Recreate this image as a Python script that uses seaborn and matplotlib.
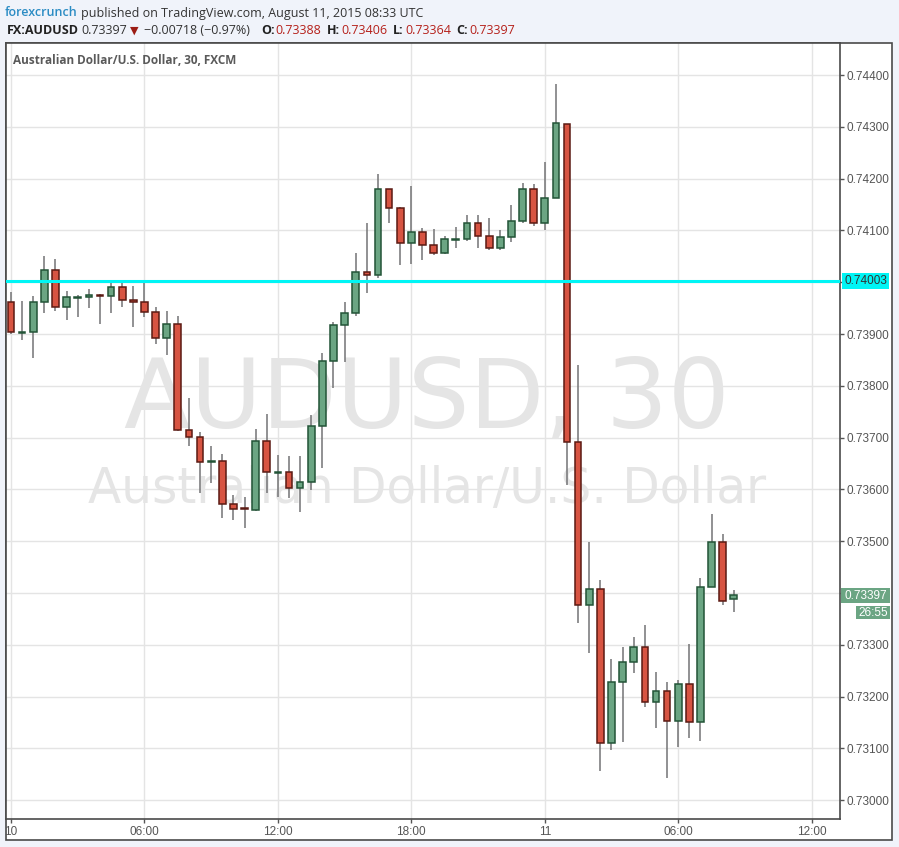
import pandas as pd
import seaborn as sns
import matplotlib.pyplot as plt
from matplotlib.patches import Rectangle

# 30 minute candles, AUD/USD, Aug 10 00:00 -> Aug 11 08:30 UTC
opens = [0.73962, 0.73902, 0.73904, 0.73962, 0.74024, 0.73952, 0.73970, 0.73971, 0.73975, 0.73973,
         0.73990, 0.73965, 0.73961, 0.73942, 0.73892, 0.73919, 0.73714, 0.73701, 0.73652, 0.73654,
         0.73571, 0.73564, 0.73561, 0.73693, 0.73632, 0.73633, 0.73602, 0.73614, 0.73722, 0.73847,
         0.73917, 0.73940, 0.74019, 0.74013, 0.74180, 0.74143, 0.74075, 0.74096, 0.74071, 0.74056,
         0.74082, 0.74083, 0.74114, 0.74089, 0.74066, 0.74087, 0.74118, 0.74179, 0.74114, 0.74162,
         0.74306, 0.73691, 0.73377, 0.73408, 0.73111, 0.73228, 0.73267, 0.73295, 0.73190, 0.73210,
         0.73153, 0.73224, 0.73150, 0.73411, 0.73499, 0.73388]
highs = [0.73981, 0.73964, 0.73973, 0.74051, 0.74045, 0.73983, 0.73975, 0.73987, 0.73977, 0.74001,
         0.74001, 0.73993, 0.74001, 0.73953, 0.73945, 0.73935, 0.73777, 0.73710, 0.73684, 0.73669,
         0.73589, 0.73586, 0.73717, 0.73746, 0.73667, 0.73664, 0.73664, 0.73744, 0.73863, 0.73923,
         0.73962, 0.74056, 0.74114, 0.74209, 0.74180, 0.74145, 0.74186, 0.74105, 0.74103, 0.74089,
         0.74107, 0.74130, 0.74130, 0.74124, 0.74101, 0.74149, 0.74192, 0.74190, 0.74232, 0.74383,
         0.74306, 0.73840, 0.73499, 0.73426, 0.73272, 0.73296, 0.73316, 0.73339, 0.73248, 0.73229,
         0.73233, 0.73302, 0.73429, 0.73553, 0.73513, 0.73406]
lows = [0.73900, 0.73889, 0.73854, 0.73941, 0.73945, 0.73928, 0.73932, 0.73951, 0.73920, 0.73940,
        0.73953, 0.73914, 0.73932, 0.73881, 0.73860, 0.73712, 0.73683, 0.73594, 0.73612, 0.73544,
        0.73540, 0.73525, 0.73559, 0.73594, 0.73585, 0.73584, 0.73557, 0.73598, 0.73642, 0.73795,
        0.73845, 0.73935, 0.73979, 0.74008, 0.74115, 0.74034, 0.74036, 0.74042, 0.74052, 0.74054,
        0.74066, 0.74079, 0.74066, 0.74062, 0.74062, 0.74077, 0.74114, 0.74108, 0.74100, 0.74162,
        0.73609, 0.73343, 0.73285, 0.73056, 0.73097, 0.73112, 0.73245, 0.73179, 0.73139, 0.73043,
        0.73103, 0.73120, 0.73114, 0.73411, 0.73376, 0.73364]
closes = [0.73904, 0.73904, 0.73962, 0.74024, 0.73952, 0.73972, 0.73972, 0.73975, 0.73973, 0.73990,
          0.73965, 0.73961, 0.73942, 0.73892, 0.73919, 0.73714, 0.73701, 0.73653, 0.73654, 0.73571,
          0.73563, 0.73562, 0.73693, 0.73633, 0.73634, 0.73602, 0.73614, 0.73722, 0.73847, 0.73917,
          0.73940, 0.74019, 0.74013, 0.74180, 0.74143, 0.74075, 0.74096, 0.74071, 0.74056, 0.74083,
          0.74084, 0.74114, 0.74089, 0.74066, 0.74087, 0.74118, 0.74179, 0.74114, 0.74162, 0.74307,
          0.73691, 0.73377, 0.73408, 0.73111, 0.73228, 0.73267, 0.73295, 0.73190, 0.73210, 0.73153,
          0.73224, 0.73150, 0.73411, 0.73499, 0.73384, 0.73397]

hline_level = 0.74003
last_price = 0.73397
price_ticks = [0.744, 0.743, 0.742, 0.741, 0.740, 0.739, 0.738, 0.737, 0.736, 0.735,
               0.734, 0.733, 0.732, 0.731, 0.730]
time_ticks = [0, 12, 24, 36, 48, 60, 72]
time_labels = ['10', '06:00', '12:00', '18:00', '11', '06:00', '12:00']

df = pd.DataFrame({'open': opens, 'high': highs, 'low': lows, 'close': closes})
df['idx'] = range(len(df))
df['up'] = df['close'] >= df['open']

sns.set_theme(style='white')
plt.rcParams['font.family'] = ['Open Sans', 'DejaVu Sans']

W, H = 899, 847
fig = plt.figure(figsize=(W / 100, H / 100), dpi=100)
fig.patch.set_facecolor('#f0f3fa')

def fx(px):
    return px / W

def fy(py):
    return 1 - py / H

# chart frame (plot + price scale + time scale)
fig.patches.append(Rectangle((fx(6), fy(840)), fx(886), (840 - 43) / H, transform=fig.transFigure,
                             facecolor='white', edgecolor='#4a4a4a', lw=1.2, zorder=-5))

ax = fig.add_axes([fx(6), fy(819), fx(834), (819 - 43) / H])
ax.set_zorder(1)
ax.set_facecolor('white')
ax.set_xlim(-0.45, 74.55)
ax.set_ylim(0.729637, 0.744618)

for t in time_ticks:
    ax.axvline(t, color='#e4e4e4', lw=1, zorder=0)
for p in price_ticks:
    ax.axhline(p, color='#e4e4e4', lw=1, zorder=0)

# watermark
ax.text(37.4, 0.73770, 'AUDUSD, 30', ha='center', va='center', fontsize=70,
        color='#e5e5e5', family='DejaVu Sans', zorder=1)
ax.text(37.4, 0.73600, 'Australian Dollar/U.S. Dollar', ha='center', va='center', fontsize=35,
        color='#e5e5e5', family='DejaVu Sans', zorder=1)

# wicks
ax.vlines(df['idx'], df['low'], df['high'], color='#737375', lw=1.1, zorder=2)
# bodies
body_w = 0.6
for up, fill, edge in [(True, '#6ba583', '#225437'), (False, '#d75442', '#5b1a13')]:
    sub = df[df['up'] == up]
    bottom = sub[['open', 'close']].min(axis=1)
    height = (sub['close'] - sub['open']).abs().clip(lower=0.000012)
    ax.bar(sub['idx'], height, bottom=bottom, width=body_w, color=fill,
           edgecolor=edge, linewidth=1.1, zorder=3)

ax.axhline(hline_level, color='#00f5f5', lw=2.2, zorder=4)

ax.set_xticks(time_ticks)
ax.set_xticklabels(time_labels)
ax.yaxis.tick_right()
ax.set_yticks(price_ticks)
ax.set_yticklabels(['' if abs(p - 0.740) < 1e-9 or abs(p - 0.734) < 1e-9 else f'{p:.5f}'
                    for p in price_ticks])
narrow = ['Liberation Sans Narrow', 'Liberation Sans']
for lab in ax.get_xticklabels() + ax.get_yticklabels():
    lab.set_family(narrow)
    lab.set_fontsize(8.5)
    lab.set_color('#555555')
ax.tick_params(axis='x', length=3, width=1, color='#555555', pad=2, bottom=True)
ax.tick_params(axis='y', length=3, width=1, color='#555555', pad=2, right=True)
for s in ax.spines.values():
    s.set_color('#4a4a4a')
    s.set_linewidth(1.2)
ax.set_xlabel('')
ax.set_ylabel('')

# price scale badges
fig.patches.append(Rectangle((fx(841), fy(603)), fx(49), 15.5 / H, transform=fig.transFigure,
                             facecolor='#6ba583', edgecolor='none', zorder=5))
fig.text(fx(865.5), fy(595.5), f'{last_price:.5f}', ha='center', va='center', color='white',
         fontsize=8.5, family=narrow, zorder=6)
fig.patches.append(Rectangle((fx(856), fy(619)), fx(34), 13.5 / H, transform=fig.transFigure,
                             facecolor='#6ba583', edgecolor='none', zorder=5))
fig.text(fx(873), fy(612.5), '26:55', ha='center', va='center', color='white',
         fontsize=8.5, family=narrow, zorder=6)
fig.text(fx(865.5), fy(281), f'{hline_level:.5f}', ha='center', va='center', color='#333333',
         fontsize=8.5, family=narrow, zorder=6,
         bbox=dict(boxstyle='square,pad=0.2', facecolor='#00f5f5', edgecolor='none'))

# header
fig.text(fx(13), fy(60), 'Australian Dollar/U.S. Dollar, 30, FXCM', ha='left', va='center',
         fontsize=8.5, fontweight='bold', color='#5a5a5a')
fig.text(fx(5), fy(13), 'forexcrunch', ha='left', va='center', fontsize=9,
         fontweight='semibold', color='#2b8cc4')
fig.text(fx(81), fy(13), 'published on TradingView.com, August 11, 2015 08:33 UTC',
         ha='left', va='center', fontsize=9, color='#333333')
y2 = fy(31)
fig.text(fx(7), y2, 'FX:AUDUSD', ha='left', va='center', fontsize=9, fontweight='bold', color='#222222')
fig.text(fx(81), y2, '0.73397', ha='left', va='center', fontsize=9, color='#333333')
fig.text(fx(130), y2, '\u25bc', ha='left', va='center', fontsize=8, color='#9b1c14', family='DejaVu Sans')
fig.text(fx(144), y2, '\u22120.00718 (\u22120.97%)', ha='left', va='center', fontsize=9, color='#333333')
for lx, key, vx, val in [(261, 'O:', 275, '0.73388'), (327, 'H:', 341, '0.73406'),
                         (393, 'L:', 405, '0.73364'), (456, 'C:', 469, '0.73397')]:
    fig.text(fx(lx), y2, key, ha='left', va='center', fontsize=9, fontweight='bold', color='#222222')
    fig.text(fx(vx), y2, val, ha='left', va='center', fontsize=9, color='#b5201a')

plt.savefig('out.png', dpi=100, facecolor=fig.get_facecolor())
